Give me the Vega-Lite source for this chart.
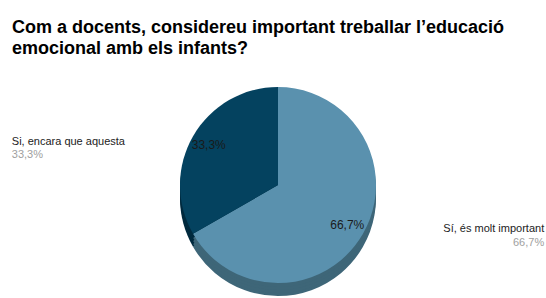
{
  "$schema": "https://vega.github.io/schema/vega-lite/v6.json",
  "width": 546,
  "height": 298,
  "autosize": {"type": "fit", "contains": "padding"},
  "padding": {"top": 19, "left": 10, "right": 0, "bottom": 0},
  "background": "white",
  "config": {"view": {"stroke": null}},
  "title": {
    "text": ["Com a docents, considereu important treballar l’educació", "emocional amb els infants?"],
    "anchor": "start",
    "font": "Liberation Sans",
    "fontSize": 18,
    "fontWeight": "bold",
    "color": "#000000",
    "lineHeight": 21,
    "offset": 14,
    "dx": 2
  },
  "data": {
    "values": [
      {"resposta": "Sí, és molt important", "percentatge": 66.7, "etiqueta": "66,7%", "ordre": 1},
      {"resposta": "Si, encara que aquesta", "percentatge": 33.3, "etiqueta": "33,3%", "ordre": 2}
    ]
  },
  "encoding": {
    "theta": {"field": "percentatge", "type": "quantitative", "stack": true},
    "order": {"field": "ordre", "type": "quantitative"}
  },
  "layer": [
    {"mark": {"type": "arc", "radius": 98, "yOffset": 13}, "encoding": {"fill": {"condition": {"test": "datum.ordre == 1", "value": "#3e6678"}, "value": "#012a3e"}}},
    {"mark": {"type": "arc", "radius": 98, "yOffset": 10}, "encoding": {"fill": {"condition": {"test": "datum.ordre == 1", "value": "#3e6678"}, "value": "#012a3e"}}},
    {"mark": {"type": "arc", "radius": 98, "yOffset": 7}, "encoding": {"fill": {"condition": {"test": "datum.ordre == 1", "value": "#3e6678"}, "value": "#012a3e"}}},
    {"mark": {"type": "arc", "radius": 98, "yOffset": 4}, "encoding": {"fill": {"condition": {"test": "datum.ordre == 1", "value": "#3e6678"}, "value": "#012a3e"}}},
    {"mark": {"type": "arc", "radius": 98}, "encoding": {"fill": {"condition": {"test": "datum.ordre == 1", "value": "#5a91ae"}, "value": "#04425f"}}},
    {"mark": {"type": "text", "radius": 80, "font": "Liberation Sans", "fontSize": 12, "color": "#1a1a1a"}, "encoding": {"text": {"field": "etiqueta"}}},
    {"mark": {"type": "text", "radius": 110, "align": "left", "baseline": "alphabetic", "dx": -171, "dy": 15, "font": "Liberation Sans", "fontSize": 11, "color": "#222222"},
     "encoding": {"text": {"condition": {"test": "datum.ordre == 2", "field": "resposta"}, "value": ""}}},
    {"mark": {"type": "text", "radius": 110, "align": "left", "baseline": "alphabetic", "dx": -171, "dy": 28, "font": "Liberation Sans", "fontSize": 11, "color": "#a0a0a0"},
     "encoding": {"text": {"condition": {"test": "datum.ordre == 2", "field": "etiqueta"}, "value": ""}}},
    {"mark": {"type": "text", "radius": 110, "align": "right", "baseline": "alphabetic", "dx": 171, "dy": -8, "font": "Liberation Sans", "fontSize": 11, "color": "#222222"},
     "encoding": {"text": {"condition": {"test": "datum.ordre == 1", "field": "resposta"}, "value": ""}}},
    {"mark": {"type": "text", "radius": 110, "align": "right", "baseline": "alphabetic", "dx": 171, "dy": 6, "font": "Liberation Sans", "fontSize": 11, "color": "#a0a0a0"},
     "encoding": {"text": {"condition": {"test": "datum.ordre == 1", "field": "etiqueta"}, "value": ""}}}
  ]
}
